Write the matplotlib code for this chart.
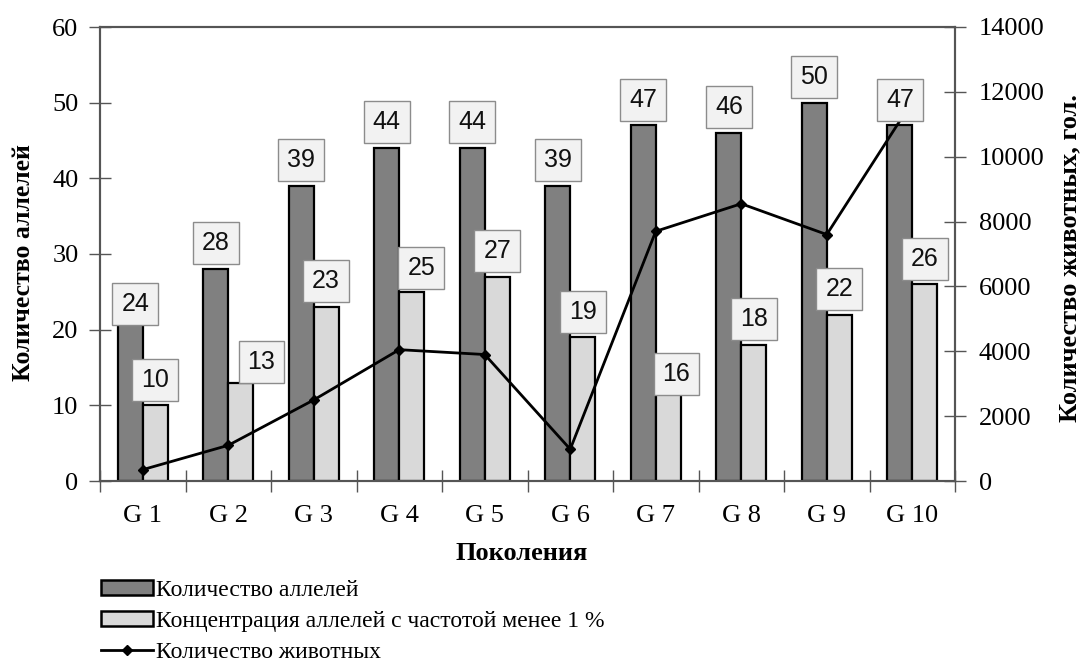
import matplotlib
matplotlib.use('Agg')
import matplotlib.pyplot as plt
import matplotlib.patches as mpatches
from matplotlib.lines import Line2D
from matplotlib.ticker import FixedLocator, NullFormatter
import numpy as np

# ── Data ──────────────────────────────────────────────────────────────────────
generations = ['G 1', 'G 2', 'G 3', 'G 4', 'G 5', 'G 6', 'G 7', 'G 8', 'G 9', 'G 10']
alleles     = [24, 28, 39, 44, 44, 39, 47, 46, 50, 47]
rare        = [10, 13, 23, 25, 27, 19, 16, 18, 22, 26]
animals     = [350, 1100, 2500, 4050, 3900, 980, 7700, 8550, 7600, 11700]

# label offsets in points (dx, dy) where the original moved a label by hand
OFF_ALL  = {0: (3.5, -3)}
OFF_RARE = {1: (15, 15), 3: (7, 17.5), 6: (6, -10)}

# ── Style ─────────────────────────────────────────────────────────────────────
SERIF = 'Liberation Serif'
SANS  = 'Liberation Sans'
C_DARK  = '#808080'
C_LIGHT = '#d9d9d9'
C_AX    = '#555555'

fig = plt.figure(figsize=(10.82, 6.68), dpi=100)
ax = fig.add_axes([100/1082, 1 - 481/668, 855/1082, 454/668])
ax2 = ax.twinx()

x = np.arange(len(generations))
W = 0.29
ax.bar(x - W/2, alleles, width=W, color=C_DARK, edgecolor='black', linewidth=1.6, zorder=2)
ax.bar(x + W/2, rare, width=W, color=C_LIGHT, edgecolor='black', linewidth=1.6, zorder=2)

ax2.plot(x, animals, color='black', lw=2, marker='D', markersize=5.5, zorder=3)

# ── Value labels (on ax2 so they sit over the line) ──────────────────────────
box = dict(boxstyle='square,pad=0.36', fc='#f2f2f2', ec='#8c8c8c', lw=1.0)
def put_labels(vals, dx_bar, offs):
    for i, v in enumerate(vals):
        dx, dy = offs.get(i, (0, 18.5))
        ax2.annotate(str(v), xy=(x[i] + dx_bar, v), xycoords=ax.transData,
                     xytext=(dx, dy), textcoords='offset points',
                     ha='center', va='center', fontsize=18, family=SANS,
                     color='#111111', bbox=box, zorder=10, annotation_clip=False)
put_labels(alleles, -W/2, OFF_ALL)
put_labels(rare, W/2, OFF_RARE)

# ── Axes ──────────────────────────────────────────────────────────────────────
ax.set_xlim(-0.5, len(generations) - 0.5)
ax.set_ylim(0, 60)
ax2.set_ylim(0, 14000)
ax.set_yticks(range(0, 61, 10))
ax2.set_yticks(range(0, 14001, 2000))

ax.set_xticks(x)
ax.set_xticklabels(generations, family=SERIF, fontsize=19)
ax.xaxis.set_minor_locator(FixedLocator(np.arange(-0.5, len(generations), 1.0)))
ax.xaxis.set_minor_formatter(NullFormatter())
ax.tick_params(axis='x', which='major', length=0, pad=17)
ax.tick_params(axis='x', which='minor', direction='inout', length=16, width=1, color=C_AX)
ax.tick_params(axis='y', direction='inout', length=16, width=1, color=C_AX, pad=7.5,
               labelsize=19)
ax2.tick_params(axis='y', direction='inout', length=16, width=1, color=C_AX, pad=9,
                labelsize=19)
for lab in ax.get_yticklabels() + ax2.get_yticklabels():
    lab.set_family(SERIF)

for a in (ax, ax2):
    for s in a.spines.values():
        s.set_color(C_AX)
        s.set_linewidth(1.5)

ax.set_ylabel('Количество аллелей', family=SERIF, fontsize=18.5, fontweight='bold')
ax.yaxis.set_label_coords(-0.076, 0.481)
ax2.set_ylabel('Количество животных, гол.', family=SERIF, fontsize=19, fontweight='bold')
ax2.yaxis.set_label_coords(1.1205, 0.492)
ax.set_xlabel('Поколения', family=SERIF, fontsize=19, fontweight='bold')
ax.xaxis.set_label_coords(0.493, -0.135)

# ── Legend ────────────────────────────────────────────────────────────────────
handles = [
    mpatches.Patch(fc=C_DARK, ec='black', lw=1.8, label='Количество аллелей'),
    mpatches.Patch(fc=C_LIGHT, ec='black', lw=1.8, label='Концентрация аллелей с частотой менее 1 %'),
    Line2D([0], [0], color='black', lw=2, marker='D', markersize=5.5, label='Количество животных'),
]
fig.legend(handles=handles, loc='upper left', bbox_to_anchor=(89/1082, 1 - 568/668),
           frameon=False, prop={'family': SERIF, 'size': 17}, handlelength=2.2,
           handleheight=0.64, handletextpad=0.15, labelspacing=0.42, borderpad=0)

fig.savefig('out.png', dpi=100, facecolor='white')
